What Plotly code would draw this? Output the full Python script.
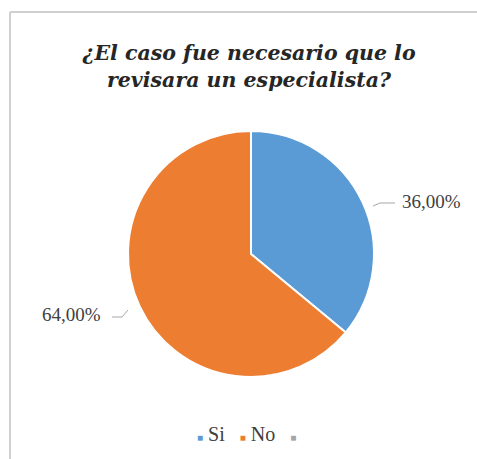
import plotly.graph_objects as go

# Survey answers and their shares (percent)
labels = ["Si", "No", " "]
values = [36.0, 64.0, 0.0]
colors = ["#5B9BD5", "#ED7D31", "#A5A5A5"]
title_text = "<b><i>¿El caso fue necesario que lo<br>revisara un especialista?</i></b>"

W, H = 477, 459
cx, cy, r = 251, 254, 123  # pie centre and radius in pixels (from top-left)
SERIF = "Liberation Serif"
TITLE_FONT = "DejaVu Serif"


def px(x):
    return x / W


def py(y):
    return 1 - y / H


fig = go.Figure(
    go.Pie(
        labels=labels,
        values=values,
        marker=dict(colors=colors, line=dict(color="white", width=2)),
        sort=False,
        direction="clockwise",
        rotation=0,
        textinfo="none",
        hoverinfo="label+percent",
        domain=dict(x=[px(cx - r), px(cx + r)], y=[py(cy + r), py(cy - r)]),
        showlegend=False,
    )
)


def fmt(v):
    return f"{v:.2f}".replace(".", ",") + "%"


# Percentage labels with short leader lines
label_spots = {
    "Si": dict(text_xy=(431, 202), line=[(373, 206), (380, 203), (395, 203)]),
    "No": dict(text_xy=(71, 314), line=[(128, 310), (122, 317), (112, 317)]),
}
for lab, val in zip(labels, values):
    if lab not in label_spots:
        continue
    spot = label_spots[lab]
    tx, ty = spot["text_xy"]
    fig.add_annotation(
        x=px(tx), y=py(ty), xref="paper", yref="paper",
        text=fmt(val), showarrow=False, xanchor="center", yanchor="middle",
        font=dict(family=SERIF, size=19, color="#404040"),
    )
    pts = spot["line"]
    path = "M " + " L ".join(f"{px(x)},{py(y)}" for x, y in pts)
    fig.add_shape(type="path", path=path, xref="paper", yref="paper",
                  line=dict(color="#A6A6A6", width=1))

# Compact legend row: small coloured squares followed by the category names
legend_parts = []
for lab, col in zip(labels, colors):
    legend_parts.append(
        f"<span style='color:{col};font-size:10px'>■</span> {lab.strip()}"
    )
fig.add_annotation(
    x=px(249), y=py(434), xref="paper", yref="paper",
    text="\u00a0\u00a0\u00a0".join(legend_parts), showarrow=False,
    xanchor="center", yanchor="middle",
    font=dict(family=SERIF, size=20, color="#404040"),
)

# Chart frame (left and top edges)
fig.add_shape(type="line", xref="paper", yref="paper", x0=px(10), x1=px(10),
              y0=0, y1=py(12), line=dict(color="#D0D0D0", width=2))
fig.add_shape(type="line", xref="paper", yref="paper", x0=px(10), x1=1,
              y0=py(12), y1=py(12), line=dict(color="#D0D0D0", width=2))

fig.update_layout(
    width=W,
    height=H,
    margin=dict(l=0, r=0, t=0, b=0),
    paper_bgcolor="white",
    plot_bgcolor="white",
    title=dict(
        text=title_text,
        x=px(249), xanchor="center",
        y=py(60), yanchor="middle",
        font=dict(family=TITLE_FONT, size=20.5, color="#262626"),
    ),
)

fig.write_html("out.html")
